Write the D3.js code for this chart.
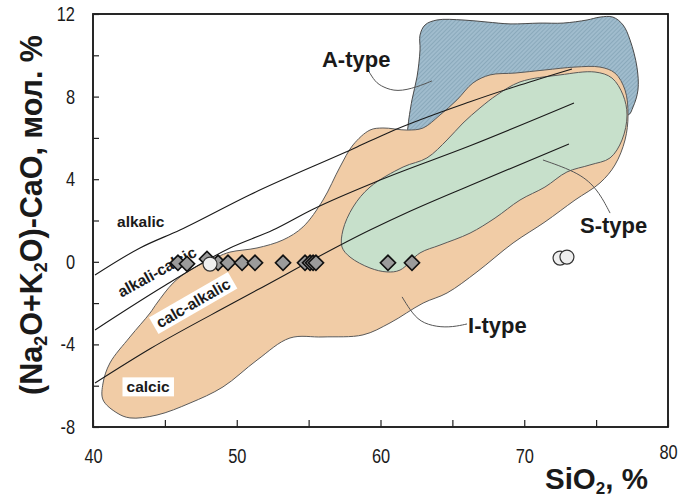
<!DOCTYPE html>
<html>
<head>
<meta charset="utf-8">
<script src="https://cdn.jsdelivr.net/npm/d3@7"></script>
<style>
body { margin: 0; background: #fff; }
svg { display: block; }
</style>
</head>
<body>
<svg id="chart" width="681" height="498"></svg>
<script>
// MALI diagram: (Na2O+K2O)-CaO vs SiO2, fields of I/S/A-type granites

// field outlines, [SiO2, MALI]
var iType = [[40.70,-6.69],[41.67,-7.32],[42.57,-7.56],[44.45,-7.42],[46.75,-6.84],[49.04,-6.06],[51.41,-4.76],
  [53.70,-3.69],[56.00,-3.64],[58.78,-3.54],[60.66,-2.96],[62.96,-2.00],[64.63,-1.51],[66.71,-0.49],[69.22,0.91],
  [71.44,1.93],[73.53,2.99],[75.27,3.82],[76.31,4.69],[77.01,5.90],[77.22,7.11],[77.01,8.32],[76.31,9.14],
  [75.27,9.43],[73.53,9.43],[71.44,9.29],[69.36,9.14],[67.62,9.05],[66.43,8.66],[65.32,7.84],[64.14,7.11],
  [62.96,6.48],[61.84,6.38],[60.17,6.48],[59.27,6.38],[58.09,5.66],[57.18,4.59],[56.00,2.99],[54.61,1.69],
  [53.22,1.06],[51.41,0.67],[49.53,0.47],[48.63,0.23],[46.75,-0.40],[45.57,-1.03],[44.45,-2.00],[43.97,-2.48],
  [42.57,-3.64],[41.18,-4.90],[40.70,-5.87]];

var sType = [[57.32,0.72],[57.39,1.54],[58.09,2.65],[59.27,3.62],[61.57,4.59],[63.23,5.03],[64.63,5.90],
  [65.74,6.72],[66.92,7.45],[68.10,8.08],[69.70,8.71],[72.49,9.05],[74.92,9.19],[76.10,8.90],[76.87,8.08],
  [77.15,7.11],[76.80,5.90],[75.97,5.03],[74.57,4.69],[72.97,4.35],[71.44,3.62],[69.70,2.99],[67.97,2.12],
  [66.23,1.39],[64.14,0.81],[62.75,0.43],[61.36,-0.40],[60.45,-0.49],[59.27,-0.30],[57.88,0.23]];

var aType = [[61.91,6.53],[62.19,7.84],[62.54,8.95],[62.75,10.26],[62.75,10.98],[63.10,11.47],[63.93,11.71],
  [65.74,11.71],[67.41,11.61],[69.01,11.52],[71.10,11.56],[72.70,11.56],[74.37,11.71],[75.27,11.85],[76.17,11.85],
  [76.87,11.47],[77.36,10.74],[77.84,9.43],[77.91,8.32],[77.57,7.50],[77.22,7.11],[75.27,7.84],[72.49,8.08],
  [69.70,8.08],[67.62,7.84],[65.53,7.11],[63.44,6.14],[61.91,6.14]];

// MALI boundaries
var alkalicLine = [[40.14,-0.64],[43.27,0.67],[46.05,1.54],[50.92,3.25],[58.37,5.56],[60.66,6.29],[66.23,7.75],[69.70,8.56],[73.32,9.34]];
var alkaliCalcicLine = [[40.14,-3.30],[45.00,-1.15],[49.53,0.67],[52.52,1.54],[55.30,2.55],[59.97,3.96],[66.23,5.62],[73.46,7.69]];
var calcAlkalicLine = [[40.14,-5.87],[44.00,-4.20],[49.74,-2.00],[51.41,-1.37],[59.27,1.54],[62.05,2.45],[66.23,3.70],[73.11,5.70]];

// samples
var diamondsSiO2 = [45.91, 46.54, 47.93, 48.70, 49.39, 50.37, 51.27, 53.22, 54.75, 55.10, 55.31, 55.51, 60.52, 62.19];
var diamondsMALI = [-0.05, -0.10, 0.14, -0.05, -0.05, -0.05, -0.05, -0.05, -0.05, -0.05, -0.05, -0.05, -0.05, -0.05];
var circlesSiO2 = [48.14, 72.49, 72.97];
var circlesMALI = [-0.11, 0.18, 0.23];

// leader lines for field names
var aLeader = [[59.13,9.29],[59.62,8.71],[60.17,8.46],[61.15,8.22],[62.54,8.46],[63.58,8.76]];
var sLeader = [[71.30,4.93],[73.88,4.30],[75.13,3.48],[75.97,2.36]];
var iLeader = [[61.50,-1.70],[62.05,-2.33],[62.75,-2.92],[63.93,-3.16],[65.04,-3.16],[66.02,-3.01]];

var xTicks = [40, 45, 50, 55, 60, 65, 70, 75, 80];
var xTickLabels = [40, 50, 60, 70, 80];
var yTicks = [-8, -6, -4, -2, 0, 2, 4, 6, 8, 10, 12];
var yTickLabels = [-8, -4, 0, 4, 8, 12];

var typeNames = ['A-type', 'S-type', 'I-type'];
var seriesNames = ['alkalic', 'alkali-calcic', 'calc-alkalic', 'calcic'];

var svg = d3.select('#chart');
var mLeft = 93, mRight = 668, mTop = 14, mBottom = 427;

var x = d3.scaleLinear().domain([40, 80]).range([mLeft, mRight]);
var y = d3.scaleLinear().domain([-8, 12]).range([mBottom, mTop]);

var boldFont = '"Liberation Sans", Arial, sans-serif';

// hatch for A-type
var defs = svg.append('defs');
var pat = defs.append('pattern')
  .attr('id', 'hatch')
  .attr('patternUnits', 'userSpaceOnUse')
  .attr('width', 3).attr('height', 3)
  .attr('patternTransform', 'rotate(45)');
pat.append('rect').attr('width', 3).attr('height', 3).attr('fill', '#a0bccd');
pat.append('line').attr('x1', 0).attr('y1', 0).attr('x2', 0).attr('y2', 3)
  .attr('stroke', '#7c9cb0').attr('stroke-width', 1.2);

var area = d3.line().x(function(d){ return x(d[0]); }).y(function(d){ return y(d[1]); })
  .curve(d3.curveCatmullRomClosed.alpha(0.5));
var curve = d3.line().x(function(d){ return x(d[0]); }).y(function(d){ return y(d[1]); })
  .curve(d3.curveMonotoneX);
var leader = d3.line().x(function(d){ return x(d[0]); }).y(function(d){ return y(d[1]); })
  .curve(d3.curveBasis);

svg.append('path').datum(aType).attr('d', area)
  .attr('fill', 'url(#hatch)').attr('stroke', '#4a4a4a').attr('stroke-width', 1);
svg.append('path').datum(iType).attr('d', area)
  .attr('fill', '#f1cca6').attr('stroke', '#5a5a5a').attr('stroke-width', 1);
svg.append('path').datum(sType).attr('d', area)
  .attr('fill', '#c7e0cb').attr('stroke', '#5a5a5a').attr('stroke-width', 1);

// boundaries
[alkalicLine, alkaliCalcicLine, calcAlkalicLine].forEach(function(l){
  svg.append('path').datum(l).attr('d', curve)
    .attr('fill', 'none').attr('stroke', '#1a1a1a').attr('stroke-width', 1.1);
});

// leaders
[aLeader, sLeader, iLeader].forEach(function(l){
  svg.append('path').datum(l).attr('d', leader)
    .attr('fill', 'none').attr('stroke', '#555').attr('stroke-width', 1);
});

// field labels (MALI series)
var seriesPos = [
  {x: 41.67, y: 1.69, a: 0, anchor: 'start', box: false},
  {x: 44.45, y: -0.49, a: -29, anchor: 'middle', box: false},
  {x: 46.96, y: -2.00, a: -30, anchor: 'middle', box: true},
  {x: 43.83, y: -6.06, a: 0, anchor: 'middle', box: true}
];
seriesNames.forEach(function(name, i){
  var p = seriesPos[i];
  var g = svg.append('g')
    .attr('transform', 'translate(' + x(p.x) + ',' + y(p.y) + ') rotate(' + p.a + ')');
  var t = g.append('text')
    .attr('text-anchor', p.anchor)
    .attr('dy', i === 0 ? 0 : '0.35em')
    .attr('font-family', boldFont)
    .attr('font-weight', 'bold')
    .attr('font-size', 15.5)
    .attr('fill', '#1a1a1a')
    .text(name);
  if (p.box) {
    var bb = t.node().getBBox();
    g.insert('rect', 'text')
      .attr('x', bb.x - 4).attr('y', bb.y - 1)
      .attr('width', bb.width + 8).attr('height', bb.height + 2)
      .attr('fill', '#fff');
  }
});

// sample points
svg.selectAll('.dia').data(diamondsSiO2).enter().append('path')
  .attr('class', 'dia')
  .attr('d', d3.symbol(d3.symbolSquare, 115))
  .attr('transform', function(d, i){ return 'translate(' + x(d) + ',' + y(diamondsMALI[i]) + ') rotate(45)'; })
  .attr('fill', '#9b9b9b').attr('stroke', '#111').attr('stroke-width', 1.6);

svg.selectAll('.circ').data(circlesSiO2).enter().append('circle')
  .attr('class', 'circ')
  .attr('cx', function(d){ return x(d); })
  .attr('cy', function(d, i){ return y(circlesMALI[i]); })
  .attr('r', 7)
  .attr('fill', '#efefef').attr('stroke', '#333').attr('stroke-width', 1.2);

// type names
var typePos = [[55.93, 9.43], [73.88, 1.39], [66.09, -3.45]];
typeNames.forEach(function(name, i){
  svg.append('text')
    .attr('x', x(typePos[i][0])).attr('y', y(typePos[i][1]))
    .attr('font-family', boldFont).attr('font-weight', 'bold')
    .attr('font-size', 22).attr('fill', '#1a1a1a')
    .text(name);
});

// frame and axes
svg.append('rect')
  .attr('x', mLeft).attr('y', mTop)
  .attr('width', mRight - mLeft).attr('height', mBottom - mTop)
  .attr('fill', 'none').attr('stroke', '#111').attr('stroke-width', 1.8);

var xAxis = d3.axisBottom(x).tickValues(xTicks).tickSizeInner(-7).tickSizeOuter(0).tickPadding(21)
  .tickFormat(function(d){ return xTickLabels.indexOf(d) >= 0 ? d : ''; });
var gx = svg.append('g').attr('transform', 'translate(0,' + mBottom + ')').call(xAxis);

var yAxis = d3.axisLeft(y).tickValues(yTicks).tickSizeInner(-6).tickSizeOuter(0).tickPadding(18)
  .tickFormat(function(d){ return yTickLabels.indexOf(d) >= 0 ? d : ''; });
var gy = svg.append('g').attr('transform', 'translate(' + mLeft + ',0)').call(yAxis);

[gx, gy].forEach(function(g){
  g.select('.domain').remove();
  g.selectAll('line').attr('stroke', '#222').attr('stroke-width', 1.2);
  g.selectAll('text')
    .attr('font-family', boldFont).attr('font-size', 20.5).attr('fill', '#1a1a1a')
    .each(function(){
      // narrow the glyphs, like Arial Narrow in the original
      var len = this.getComputedTextLength();
      if (len > 0) d3.select(this).attr('textLength', len * 0.8).attr('lengthAdjust', 'spacingAndGlyphs');
    });
});
// the last x label sits a little higher in the original
gx.selectAll('.tick').filter(function(d){ return d === 80; }).select('text').attr('y', 17);

// axis titles
var xt = svg.append('text')
  .attr('x', 545).attr('y', 489)
  .attr('font-family', boldFont).attr('font-weight', 'bold')
  .attr('font-size', 29.5).attr('fill', '#1a1a1a');
xt.append('tspan').text('SiO');
xt.append('tspan').attr('font-size', 17).attr('dy', 5).text('2');
xt.append('tspan').attr('dy', -5).text(', %');

var yt = svg.append('text')
  .attr('transform', 'translate(42,' + 215 + ') rotate(-90)')
  .attr('text-anchor', 'middle')
  .attr('font-family', boldFont).attr('font-weight', 'bold')
  .attr('font-size', 30.5).attr('fill', '#1a1a1a');
yt.append('tspan').text('(Na');
yt.append('tspan').attr('font-size', 18).attr('dy', 5).text('2');
yt.append('tspan').attr('dy', -5).text('O+K');
yt.append('tspan').attr('font-size', 18).attr('dy', 5).text('2');
yt.append('tspan').attr('dy', -5).text('O)-CaO, мол. %');
</script>
</body>
</html>
